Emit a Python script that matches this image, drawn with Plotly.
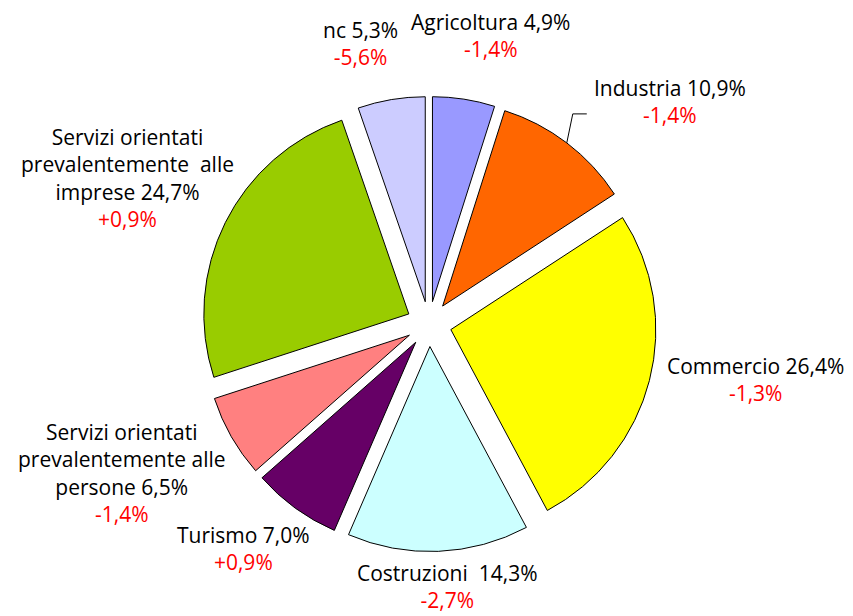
import math
import plotly.graph_objects as go

categories = ["Agricoltura", "Industria", "Commercio", "Costruzioni", "Turismo",
              "Servizi orientati prevalentemente alle persone",
              "Servizi orientati prevalentemente alle imprese", "nc"]
display_names = ["Agricoltura", "Industria", "Commercio", "Costruzioni ", "Turismo",
                 "Servizi orientati<br>prevalentemente alle<br>persone",
                 "Servizi orientati<br>prevalentemente  alle<br>imprese", "nc"]
shares = [4.9, 10.9, 26.4, 14.3, 7.0, 6.5, 24.7, 5.3]
changes = ["-1,4%", "-1,4%", "-1,3%", "-2,7%", "+0,9%", "-1,4%", "+0,9%", "-5,6%"]
colors = ["#9999FF", "#FF6600", "#FFFF00", "#CCFFFF", "#660066", "#FF8080", "#99CC00", "#CCCCFF"]

# ---- layout / style settings ----
W, H = 853, 616
FONT = "'Open Sans', Lato, sans-serif"
FONT_SIZE = 21
PULL = 0.11
CX, CY, R = 429, 324, 205          # pie centre and radius in pixels
LABEL_R = 290                      # radial distance of labels
# per-label nudges (px) relative to the radial label position
label_nudges = [(17, -2), (65, 8), (46, -17), (7, -27), (-15, -10), (-55, 5), (-42, -17), (-20, 5)]

half = R * (1 + PULL)
domain_x = [(CX - half) / W, (CX + half) / W]
domain_y = [(H - CY - half) / H, (H - CY + half) / H]

fig = go.Figure(go.Pie(
    labels=categories, values=shares, sort=False, direction="clockwise", rotation=0,
    pull=[PULL] * len(shares), textinfo="none",
    marker=dict(colors=colors, line=dict(color="#000000", width=1)),
    showlegend=False, hoverinfo="label+percent",
    domain=dict(x=domain_x, y=domain_y),
))

total = sum(shares)
cum = 0.0
for i, (name, v, ch) in enumerate(zip(display_names, shares, changes)):
    mid = (cum + v / 2) / total * 2 * math.pi
    cum += v
    px = CX + LABEL_R * math.sin(mid) + label_nudges[i][0]
    py = CY - LABEL_R * math.cos(mid) + label_nudges[i][1]
    txt = f"{name} {v:.1f}%".replace(".", ",") + f"<br><span style='color:#FF0000'>{ch}</span>"
    fig.add_annotation(
        x=px / W, y=1 - py / H, xref="paper", yref="paper",
        text=txt, showarrow=False, xanchor="center", yanchor="middle", align="center",
        font=dict(family=FONT, size=FONT_SIZE, color="#000000"),
    )
    if categories[i] == "Industria":
        # leader line from the slice's outer edge to the label
        ox = CX + half * math.sin(mid)
        oy = CY - half * math.cos(mid)
        fig.add_shape(
            type="path", xref="paper", yref="paper",
            path=f"M {ox / W} {1 - oy / H} L {(ox + 6) / W} {1 - (oy - 29) / H} L {(ox + 20) / W} {1 - (oy - 29) / H}",
            line=dict(color="#000000", width=1),
        )

fig.update_layout(
    width=W, height=H,
    separators=",.",
    paper_bgcolor="white",
    plot_bgcolor="white",
    margin=dict(l=0, r=0, t=0, b=0),
)

fig.write_html("out.html", config={"displayModeBar": False},
               post_script="document.body.style.margin='0';document.body.style.overflow='hidden';")
